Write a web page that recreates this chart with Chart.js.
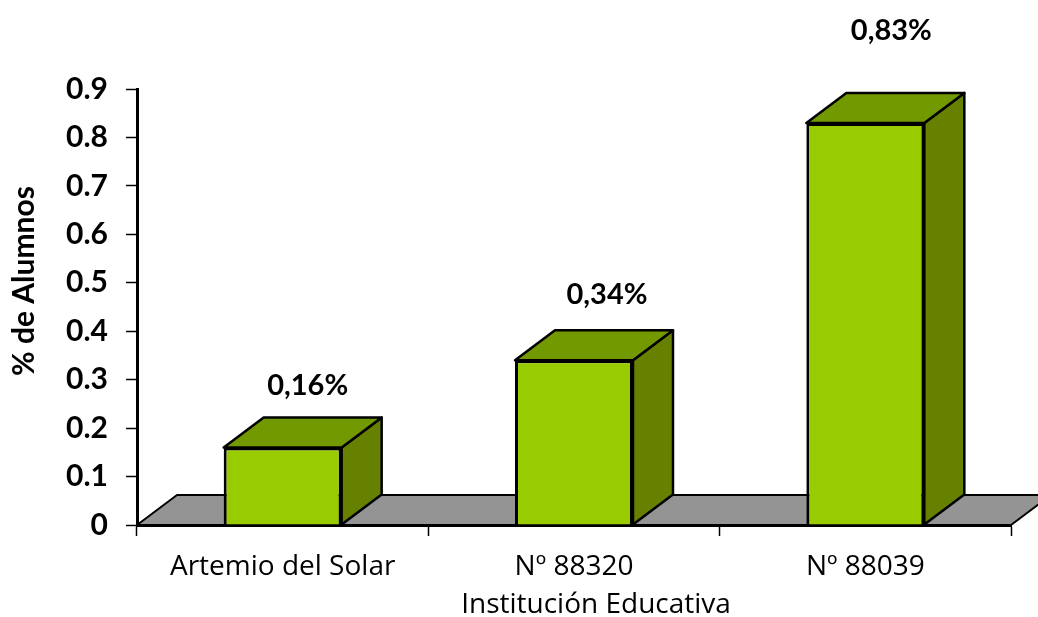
<!DOCTYPE html>
<html><head><meta charset="utf-8">
<style>html,body{margin:0;padding:0;background:#fff}canvas{display:block}</style>
<script src="https://cdn.jsdelivr.net/npm/chart.js@4"></script></head>
<body><canvas id="c" width="1038" height="617"></canvas>
<script>
const categories = ['Artemio del Solar', 'Nº 88320', 'Nº 88039'];
const values = [0.16, 0.34, 0.83];
const valueLabels = ['0,16%', '0,34%', '0,83%'];
const yTickLabels = ['0','0.1','0.2','0.3','0.4','0.5','0.6','0.7','0.8','0.9'];
const yTitle = '% de Alumnos';
const xTitle = 'Institución Educativa';

const DEPTH_X = 40, DEPTH_Y = 30;
const labelShiftX = [25, 33, 26];
const labelLift = [62, 66, 92];
const BOLD = 'bold 29px Lato, Carlito, sans-serif';
const REG = '28px "Open Sans", sans-serif';

function poly(ctx, pts, fill, lw) {
  ctx.beginPath();
  pts.forEach((p, i) => i ? ctx.lineTo(p[0], p[1]) : ctx.moveTo(p[0], p[1]));
  ctx.closePath();
  ctx.fillStyle = fill; ctx.fill();
  ctx.lineWidth = lw; ctx.strokeStyle = '#000'; ctx.lineJoin = 'round'; ctx.stroke();
}
const box3d = {
  id: 'box3d',
  beforeDatasetsDraw(chart) {
    const {ctx, chartArea: a} = chart;
    ctx.save();
    poly(ctx, [[a.left, a.bottom], [a.left + DEPTH_X, a.bottom - DEPTH_Y],
               [a.right + DEPTH_X, a.bottom - DEPTH_Y], [a.right, a.bottom]], '#949494', 2);
    chart.getDatasetMeta(0).data.forEach(b => {
      const l = b.x - b.width / 2, r = b.x + b.width / 2, t = b.y, bot = b.base;
      poly(ctx, [[r, t], [r + DEPTH_X, t - DEPTH_Y], [r + DEPTH_X, bot - DEPTH_Y], [r, bot]], '#668000', 2.5);
      poly(ctx, [[l, t], [l + DEPTH_X, t - DEPTH_Y], [r + DEPTH_X, t - DEPTH_Y], [r, t]], '#739900', 2.5);
    });
    ctx.restore();
  },
  afterDraw(chart) {
    const {ctx} = chart;
    ctx.save();
    ctx.fillStyle = '#000'; ctx.textAlign = 'center'; ctx.textBaseline = 'middle';
    ctx.font = BOLD;
    chart.getDatasetMeta(0).data.forEach((b, i) => {
      ctx.fillText(valueLabels[i], b.x + labelShiftX[i], b.y - labelLift[i]);
    });
    ctx.font = REG;
    ctx.fillText(xTitle, 596, 605);
    ctx.translate(24, 281); ctx.rotate(-Math.PI / 2);
    ctx.font = 'bold 30px Lato, Carlito, sans-serif';
    ctx.fillText(yTitle, 0, 0);
    ctx.restore();
  }
};
new Chart(document.getElementById('c'), {
  type: 'bar',
  data: { labels: categories, datasets: [{
    data: values, backgroundColor: '#99CC00', borderColor: '#000', borderWidth: 3,
    barPercentage: 0.405, categoryPercentage: 1
  }]},
  options: {
    responsive: false, animation: false,
    layout: { padding: { top: 89, right: 27, left: 0, bottom: 0 } },
    plugins: { legend: { display: false }, tooltip: { enabled: false } },
    scales: {
      x: {
        afterFit(s) { s.height = 92; },
        grid: { drawOnChartArea: false, tickLength: 11, tickColor: '#000', tickWidth: 1.5, offset: true },
        border: { color: '#000', width: 3 },
        ticks: { color: '#000', font: { family: '"Open Sans", sans-serif', size: 28 }, padding: 14, maxRotation: 0 }
      },
      y: {
        min: 0, max: 0.9,
        afterFit(s) { s.width = 137; },
        grid: { drawOnChartArea: false, tickLength: 11, tickColor: '#000', tickWidth: 1.5 },
        border: { color: '#000', width: 3 },
        ticks: { stepSize: 0.1, color: '#000', padding: 18,
          font: { family: 'Lato, Carlito, sans-serif', size: 30, weight: 'bold' },
          callback: (v, i) => yTickLabels[i] }
      }
    }
  },
  plugins: [box3d]
});
</script></body></html>
